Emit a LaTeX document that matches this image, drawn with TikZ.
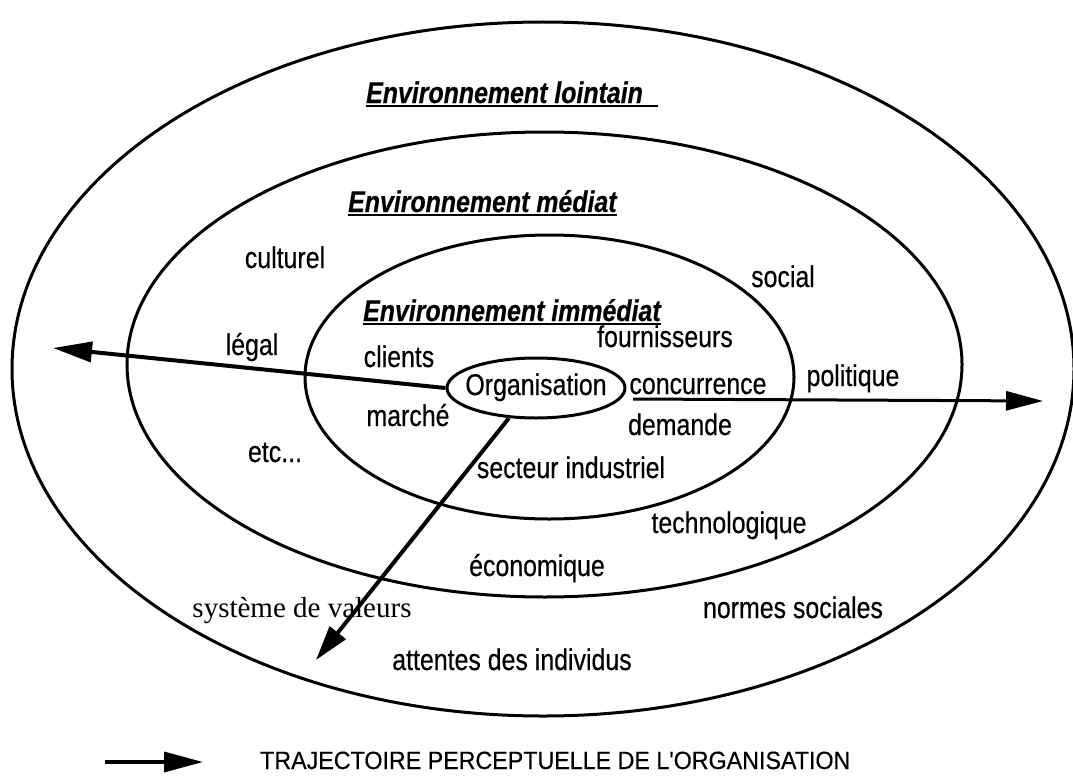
\documentclass[tikz,border=0pt]{standalone}
\usepackage{fontspec}
\setmainfont{Liberation Sans}
% narrow, slightly heavy sans for the labels; plain quotes for the legend
\newfontfamily\lblfont{Liberation Sans}[FakeStretch=0.83, FakeBold=0.4]
\newfontfamily\legfont{Liberation Sans}[FakeStretch=0.93, FakeBold=0.4]
\newfontfamily\oldserif{Liberation Serif}
\usetikzlibrary{shapes.geometric,arrows.meta}

\tikzset{
  ring/.style={draw, ellipse, line width=3pt, inner sep=0pt},
  lbl/.style={inner sep=0pt, anchor=base, font=\fontsize{30}{34}\lblfont},
  title/.style={lbl, anchor=base west, font=\fontsize{30}{34}\lblfont\bfseries\itshape},
  seriflbl/.style={lbl, font=\fontsize{29}{34}\oldserif},
  legendlbl/.style={lbl, anchor=base west, font=\fontsize{25}{30}\legfont},
  uline/.style={line width=2pt},
  traj/.style={line width=4pt, -{Triangle[length=37pt,width=20pt]}},
}

\begin{document}
\begin{tikzpicture}[x=1pt,y=-1pt]
\useasboundingbox (0,0) rectangle (1073,776);

% concentric environments
\node[ring, minimum width=1062pt, minimum height=694pt] (outer) at (543,369) {};
\node[ring, minimum width=835pt, minimum height=465pt] (middle) at (544.5,364.5) {};
\node[ring, minimum width=489pt, minimum height=284pt] (inner) at (549.5,377) {};
\node[ring, minimum width=178pt, minimum height=60pt] (org) at (536,388) {};
\node[lbl] (orgtext) at (536,395) {Organisation};

% zone titles, underlined
\node[title] (tlointain) at (366,103) {Environnement lointain};
\node[title] (tmediat) at (348,212) {Environnement médiat};
\node[title] (timmediat) at (363,321) {Environnement immédiat};
\draw[uline] ([yshift=-3pt]tlointain.base west) -- ([yshift=-3pt,xshift=15pt]tlointain.base east);
\draw[uline] ([yshift=-3pt]tmediat.base west) -- ([yshift=-3pt]tmediat.base east);
\draw[uline] ([yshift=-3pt]timmediat.base west) -- ([yshift=-3pt]timmediat.base east);

% factors of each zone
\node[lbl] (culturel) at (285,268) {culturel};
\node[lbl] (social) at (783,287) {social};
\node[lbl] (fournisseurs) at (665,347) {fournisseurs};
\node[lbl] (legal) at (252,355) {légal};
\node[lbl] (clients) at (399,367) {clients};
\node[lbl] (politique) at (853,386) {politique};
\node[lbl] (concurrence) at (698,394) {concurrence};
\node[lbl] (marche) at (408,426) {marché};
\node[lbl] (demande) at (680,435) {demande};
\node[lbl] (etc) at (275,462) {etc...};
\node[lbl] (secteur) at (571,478) {secteur industriel};
\node[lbl] (techno) at (729,533) {technologique};
\node[lbl] (eco) at (537,576) {économique};
\node[seriflbl] (valeurs) at (302,617) {système de valeurs};
\node[lbl] (normes) at (793,618) {normes sociales};
\node[lbl] (attentes) at (512,670) {attentes des individus};

% perceptual trajectories leaving the organisation
\coordinate (leftTip) at (53,348);
\coordinate (rightStart) at (633,399);
\coordinate (rightTip) at (1043,401);
\coordinate (downTip) at (316,660);
\draw[traj, -{Triangle[length=39pt,width=20pt]}] (org.west) -- (leftTip);
\draw[traj, line width=3pt, -{Triangle[length=37pt,width=19pt]}] (rightStart) -- (rightTip);
\draw[traj, -{Triangle[length=35pt,width=20pt]}] (org.228) -- (downTip);

% legend
\coordinate (legStart) at (105,762);
\coordinate (legTip) at (203,762);
\draw[line width=3.5pt, -{Triangle[length=39pt,width=20pt]}] (legStart) -- (legTip);
\node[legendlbl] (legend) at (260,769) {TRAJECTOIRE PERCEPTUELLE DE L'ORGANISATION};
\end{tikzpicture}
\end{document}
